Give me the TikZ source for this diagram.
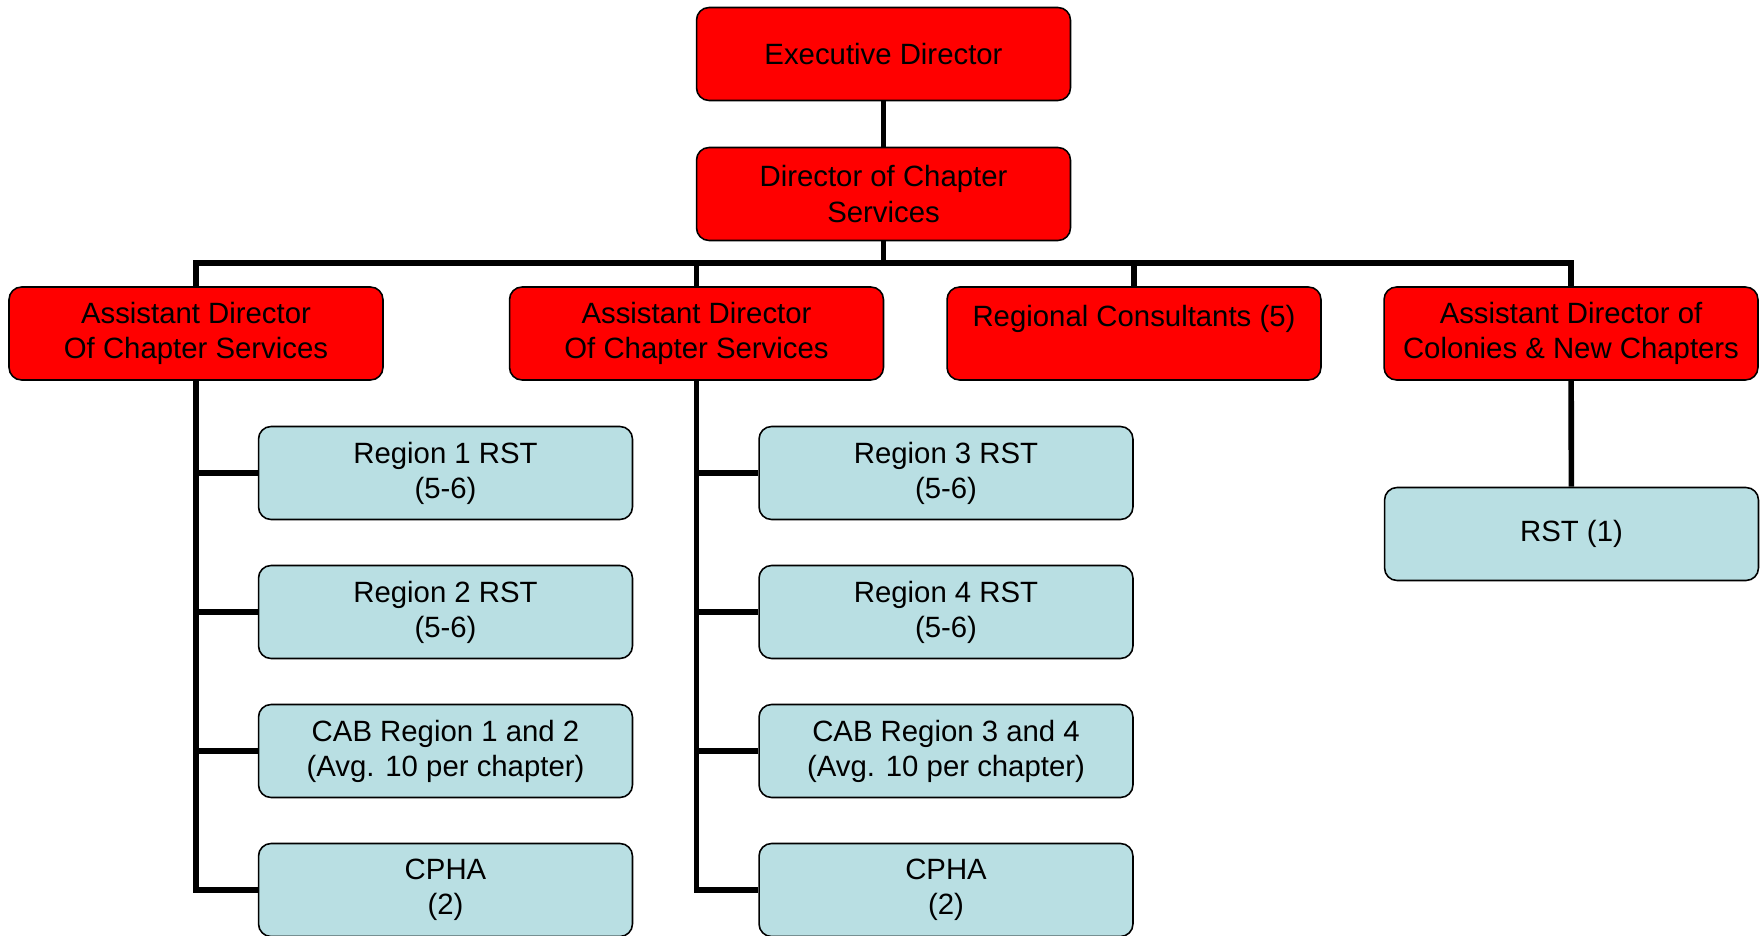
\documentclass[tikz,border=0pt]{standalone}
\usepackage{fontspec}
\setmainfont{Liberation Sans}
\definecolor{chartred}{RGB}{255,0,0}
\definecolor{chartblue}{RGB}{185,223,227}
\begin{document}
\begin{tikzpicture}[x=0.02cm, y=-0.02cm,
    box/.style     = {draw=black, line width=0.9pt, rounded corners=0.25cm,
                      minimum width=7.48cm, minimum height=1.86cm, align=center,
                      font=\fontsize{16.7}{20}\selectfont},
    redbox/.style  = {box, fill=chartred},
    bluebox/.style = {box, fill=chartblue},
    link/.style    = {line width=3.2pt}]
  \useasboundingbox (0,0) rectangle (1761,936);
  \coordinate (bus) at (0,263);
  \node [redbox] (ed)  at (883.5, 54)  {Executive Director};
  \node [redbox] (dcs) at (883.5,194)  {Director of Chapter\\Services};
  \node [redbox] (adl) at (196,333.5)  {Assistant Director\\Of Chapter Services};
  \node [redbox] (adm) at (696.5,333.5) {Assistant Director\\Of Chapter Services};
  \node [redbox] (rc)  at (1134,333.5) {Regional Consultants (5)\\\phantom{X}};
  \node [redbox] (adc) at (1571,333.5) {Assistant Director of\\Colonies \& New Chapters};
  \node [bluebox] (r1)    at (445.5,473) {Region 1 RST\\(5-6)};
  \node [bluebox] (r2)    at (445.5,612) {Region 2 RST\\(5-6)};
  \node [bluebox] (cabl)  at (445.5,751) {CAB Region 1 and 2\\(Avg. 10 per chapter)};
  \node [bluebox] (cphal) at (445.5,890) {CPHA\\(2)};
  \node [bluebox] (r3)    at (946,473) {Region 3 RST\\(5-6)};
  \node [bluebox] (r4)    at (946,612) {Region 4 RST\\(5-6)};
  \node [bluebox] (cabm)  at (946,751) {CAB Region 3 and 4\\(Avg. 10 per chapter)};
  \node [bluebox] (cpham) at (946,890) {CPHA\\(2)};
  \node [bluebox] (rst)   at (1571.5,534) {RST (1)};
  % top of the chart
  \draw [link] (ed) -- (dcs);
  \draw [link] (dcs.south) -- (dcs.south |- bus);
  \draw [link] (adl.north) -- (adl.north |- bus) -- (adc.north |- bus) -- (adc.north);
  \draw [link] (adm.north) -- (adm.north |- bus);
  \draw [link] (rc.north) -- (rc.north |- bus);
  % teams under each assistant director
  \draw [link] (adl.south) |- (cphal.west);
  \foreach \t in {r1, r2, cabl}
    \draw [link] (adl.south |- \t.west) -- (\t.west);
  \draw [link] (adm.south) |- (cpham.west);
  \foreach \t in {r3, r4, cabm}
    \draw [link] (adm.south |- \t.west) -- (\t.west);
  \draw [link] (adc) -- (rst);
\end{tikzpicture}
\end{document}
